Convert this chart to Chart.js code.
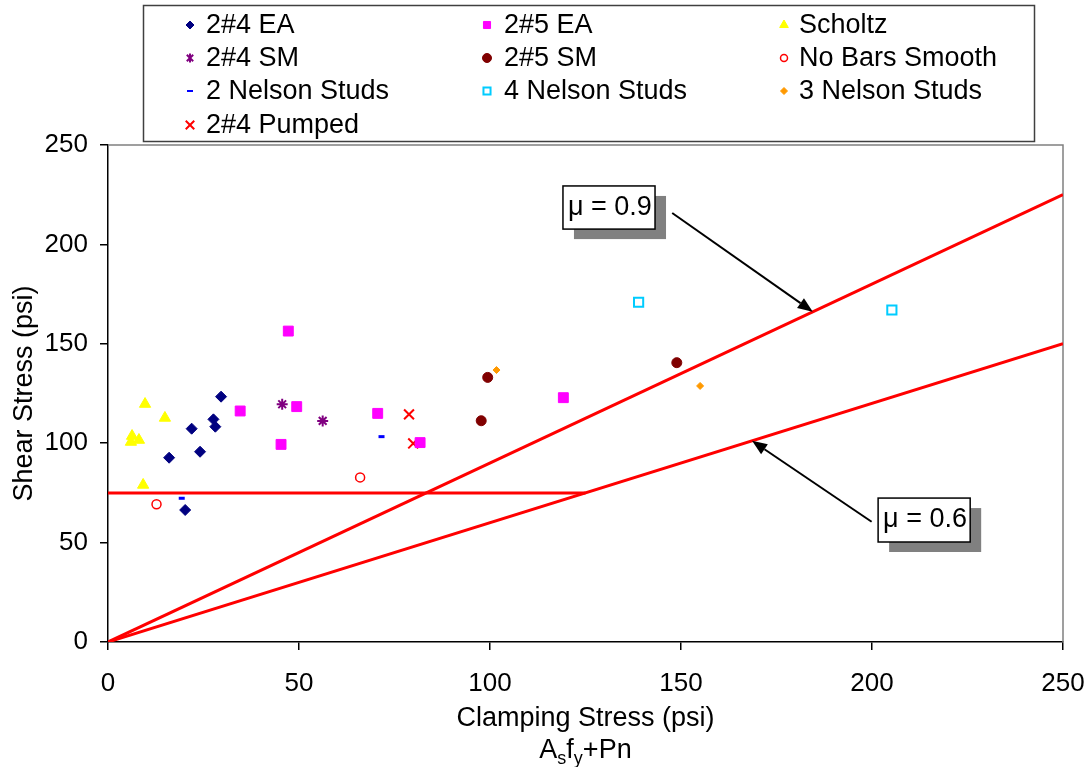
<!DOCTYPE html>
<html>
<head>
<meta charset="utf-8">
<script src="https://cdn.jsdelivr.net/npm/chart.js@4.4.0/dist/chart.umd.min.js"></script>
<style>
  html, body { margin: 0; padding: 0; background: #fff; }
  canvas { display: block; }
</style>
</head>
<body>
<canvas id="chart" width="1090" height="767"></canvas>
<script>
// values (psi)
const ea24X = [29.6, 27.6, 28.1, 21.9, 24.1, 16.0, 20.2];
const ea24Y = [123.4, 112.0, 108.3, 107.3, 95.7, 92.7, 66.4];
const ea25X = [34.6, 47.2, 49.4, 45.3, 70.6, 81.7, 119.2];
const ea25Y = [116.2, 156.4, 118.4, 99.4, 115.0, 100.3, 122.9];
const scholtzX = [9.7, 14.9, 6.3, 6.0, 8.1, 9.2];
const scholtzY = [119.7, 112.7, 103.6, 100.6, 101.6, 79.0];
const sm24X = [45.6, 56.2];
const sm24Y = [119.6, 111.2];
const sm25X = [99.4, 97.7, 148.9];
const sm25Y = [133.1, 111.3, 140.5];
const noBarsX = [12.7, 66.0];
const noBarsY = [69.3, 82.8];
const nelson2X = [19.3, 71.6];
const nelson2Y = [72.3, 103.3];
const nelson4X = [138.9, 205.2];
const nelson4Y = [170.9, 167.0];
const nelson3X = [101.7, 155.0];
const nelson3Y = [136.8, 128.8];
const pumpedX = [78.8, 79.9];
const pumpedY = [114.5, 99.9];

// friction lines and cap
const mu09X = [0, 250], mu09Y = [0, 225];
const mu06X = [0, 250], mu06Y = [0, 150];
const capX = [0, 125], capY = [75, 75];

const xTicks = [0, 50, 100, 150, 200, 250];
const yTicks = [0, 50, 100, 150, 200, 250];

const pts = (xs, ys) => xs.map((x, i) => ({ x: x, y: ys[i] }));
const FONT = '"Liberation Sans", Arial, sans-serif';

function series(label, xs, ys, style, r, fill, stroke, bw, legendR) {
  return {
    label: label, data: pts(xs, ys), pointStyle: style, pointRadius: r,
    pointBackgroundColor: fill, pointBorderColor: stroke, pointBorderWidth: bw,
    backgroundColor: fill, borderColor: stroke, showLine: false, legendR: legendR
  };
}
function refLine(xs, ys) {
  return {
    label: '', data: pts(xs, ys), showLine: true, pointRadius: 0,
    borderColor: '#ff0000', borderWidth: 3, fill: false, isRef: true
  };
}

const datasets = [
  series('2#4 EA', ea24X, ea24Y, 'rectRot', 5.5, '#000080', '#000080', 1, 4),
  series('2#5 EA', ea25X, ea25Y, 'rect', 7, '#ff00ff', '#ff00ff', 1, 5),
  series('Scholtz', scholtzX, scholtzY, 'triangle', 6.5, '#ffff00', '#ffff00', 1, 5),
  series('2#4 SM', sm24X, sm24Y, 'star', 5.5, '#800080', '#800080', 2, 4.5),
  series('2#5 SM', sm25X, sm25Y, 'circle', 5, '#800000', '#800000', 1, 4.5),
  series('No Bars Smooth', noBarsX, noBarsY, 'circle', 4.5, '#ffffff', '#ff0000', 1.5, 3.5),
  series('2 Nelson Studs', nelson2X, nelson2Y, 'line', 3, '#0000ff', '#0000ff', 3, 3),
  series('4 Nelson Studs', nelson4X, nelson4Y, 'rect', 6.5, '#ffffff', '#00ccff', 2, 5),
  series('3 Nelson Studs', nelson3X, nelson3Y, 'rectRot', 3.5, '#ff9900', '#ff9900', 1, 3.5),
  series('2#4 Pumped', pumpedX, pumpedY, 'crossRot', 7, '#ff0000', '#ff0000', 2, 6),
  refLine(mu09X, mu09Y),
  refLine(mu06X, mu06Y),
  refLine(capX, capY)
];

// label boxes with arrows, in data units
const notes = [
  { text: '\u03bc = 0.9', x0: 119.1, x1: 143.2, y0: 229.4, y1: 207.7, from: [147.7, 215.8], to: [184.5, 166.1] },
  { text: '\u03bc = 0.6', x0: 201.6, x1: 225.7, y0: 72.4, y1: 50.3, from: [199.9, 60.5], to: [168.6, 101.2] }
];

function marker(ctx, style, x, y, r, fill, stroke, bw) {
  ctx.save();
  ctx.fillStyle = fill; ctx.strokeStyle = stroke; ctx.lineWidth = bw;
  ctx.beginPath();
  const h = r * Math.SQRT1_2;
  if (style === 'rectRot') {
    ctx.moveTo(x, y - r); ctx.lineTo(x + r, y); ctx.lineTo(x, y + r); ctx.lineTo(x - r, y); ctx.closePath();
    ctx.fill(); ctx.stroke();
  } else if (style === 'rect') {
    ctx.rect(x - h, y - h, 2 * h, 2 * h); ctx.fill(); ctx.stroke();
  } else if (style === 'triangle') {
    ctx.moveTo(x, y - r); ctx.lineTo(x + r * 0.866, y + r * 0.5); ctx.lineTo(x - r * 0.866, y + r * 0.5); ctx.closePath();
    ctx.fill(); ctx.stroke();
  } else if (style === 'circle') {
    ctx.arc(x, y, r, 0, Math.PI * 2); ctx.fill(); ctx.stroke();
  } else if (style === 'star') {
    ctx.moveTo(x, y - r); ctx.lineTo(x, y + r);
    ctx.moveTo(x - h, y - h); ctx.lineTo(x + h, y + h);
    ctx.moveTo(x + h, y - h); ctx.lineTo(x - h, y + h);
    ctx.stroke();
  } else if (style === 'line') {
    ctx.moveTo(x - r, y); ctx.lineTo(x + r, y); ctx.stroke();
  } else if (style === 'crossRot') {
    ctx.moveTo(x - h, y - h); ctx.lineTo(x + h, y + h);
    ctx.moveTo(x + h, y - h); ctx.lineTo(x - h, y + h);
    ctx.stroke();
  }
  ctx.restore();
}

const decor = {
  id: 'decor',
  beforeDatasetsDraw(chart) {
    const { ctx, chartArea: a } = chart;
    ctx.save();
    ctx.strokeStyle = '#808080';
    ctx.lineWidth = 1.5;
    ctx.beginPath();
    ctx.moveTo(a.left, a.top); ctx.lineTo(a.right, a.top); ctx.lineTo(a.right, a.bottom);
    ctx.stroke();
    ctx.restore();
  },
  afterDraw(chart) {
    const { ctx, chartArea: a } = chart;
    const xs = chart.scales.x, ys = chart.scales.y;
    ctx.save();

    // axis titles
    ctx.fillStyle = '#000';
    ctx.textAlign = 'center';
    ctx.textBaseline = 'middle';
    ctx.font = '27px ' + FONT;
    const cx = (a.left + a.right) / 2;
    ctx.fillText('Clamping Stress (psi)', cx, 719);

    // A_s f_y + Pn with subscripts
    const big = '27px ' + FONT, small = '18px ' + FONT;
    const parts = [['A', big, 0], ['s', small, 8], ['f', big, 0], ['y', small, 8], ['+Pn', big, 0]];
    let total = 0;
    parts.forEach(p => { ctx.font = p[1]; total += ctx.measureText(p[0]).width; });
    let px = cx - total / 2;
    ctx.textAlign = 'left';
    parts.forEach(p => {
      ctx.font = p[1];
      ctx.fillText(p[0], px, 751 + p[2]);
      px += ctx.measureText(p[0]).width;
    });

    ctx.save();
    ctx.translate(25, (a.top + a.bottom) / 2);
    ctx.rotate(-Math.PI / 2);
    ctx.textAlign = 'center';
    ctx.font = '27px ' + FONT;
    ctx.fillText('Shear Stress (psi)', 0, 0);
    ctx.restore();

    // legend
    ctx.strokeStyle = '#404040';
    ctx.lineWidth = 1.5;
    ctx.strokeRect(143.5, 5.5, 891, 136);
    const colMark = [190, 487, 784], colText = [206, 504, 799], rowY = [25, 58, 91, 125];
    ctx.font = '27px ' + FONT;
    ctx.textAlign = 'left';
    ctx.textBaseline = 'middle';
    chart.data.datasets.filter(d => !d.isRef).forEach((d, i) => {
      const c = i % 3, r = Math.floor(i / 3);
      marker(ctx, d.pointStyle, colMark[c], rowY[r], d.legendR, d.pointBackgroundColor, d.pointBorderColor, Math.min(d.pointBorderWidth, 2));
      ctx.fillStyle = '#000';
      ctx.fillText(d.label, colText[c], rowY[r] + 1);
    });

    // label boxes and arrows
    notes.forEach(n => {
      const l = xs.getPixelForValue(n.x0), rgt = xs.getPixelForValue(n.x1);
      const t = ys.getPixelForValue(n.y0), b = ys.getPixelForValue(n.y1);
      ctx.fillStyle = '#808080';
      ctx.fillRect(l + 11, t + 10, rgt - l, b - t);
      ctx.fillStyle = '#fff';
      ctx.fillRect(l, t, rgt - l, b - t);
      ctx.strokeStyle = '#000';
      ctx.lineWidth = 1.5;
      ctx.strokeRect(l, t, rgt - l, b - t);
      ctx.fillStyle = '#000';
      ctx.font = '27px ' + FONT;
      ctx.textAlign = 'left';
      ctx.fillText(n.text, l + 5, (t + b) / 2);

      const fx = xs.getPixelForValue(n.from[0]), fy = ys.getPixelForValue(n.from[1]);
      const tx = xs.getPixelForValue(n.to[0]), ty = ys.getPixelForValue(n.to[1]);
      const ang = Math.atan2(ty - fy, tx - fx), hl = 15, hw = 6;
      const bx = tx - hl * Math.cos(ang), by = ty - hl * Math.sin(ang);
      ctx.beginPath();
      ctx.moveTo(fx, fy); ctx.lineTo(bx, by);
      ctx.lineWidth = 2;
      ctx.stroke();
      ctx.beginPath();
      ctx.moveTo(tx, ty);
      ctx.lineTo(bx + hw * Math.sin(ang), by - hw * Math.cos(ang));
      ctx.lineTo(bx - hw * Math.sin(ang), by + hw * Math.cos(ang));
      ctx.closePath();
      ctx.fill();
    });
    ctx.restore();
  }
};

new Chart(document.getElementById('chart'), {
  type: 'scatter',
  data: { datasets: datasets },
  options: {
    responsive: false,
    animation: false,
    layout: { padding: { top: 145, right: 27, left: 0, bottom: 0 } },
    plugins: { legend: { display: false }, tooltip: { enabled: false } },
    scales: {
      x: {
        type: 'linear', min: 0, max: 250,
        afterBuildTicks: s => { s.ticks = xTicks.map(v => ({ value: v })); },
        afterFit: s => { s.height = 125; s.paddingLeft = 0; s.paddingRight = 0; },
        ticks: { color: '#000', font: { family: FONT, size: 26 }, padding: 18, maxRotation: 0 },
        grid: { drawOnChartArea: false, color: '#000', tickLength: 8, lineWidth: 1.5 },
        border: { color: '#000', width: 1.5 }
      },
      y: {
        type: 'linear', min: 0, max: 250,
        afterBuildTicks: s => { s.ticks = yTicks.map(v => ({ value: v })); },
        afterFit: s => { s.width = 108; s.paddingTop = 0; s.paddingBottom = 0; },
        ticks: { color: '#000', font: { family: FONT, size: 26 }, padding: 12 },
        grid: { drawOnChartArea: false, color: '#000', tickLength: 8, lineWidth: 1.5 },
        border: { color: '#000', width: 1.5 }
      }
    }
  },
  plugins: [decor]
});
</script>
</body>
</html>
